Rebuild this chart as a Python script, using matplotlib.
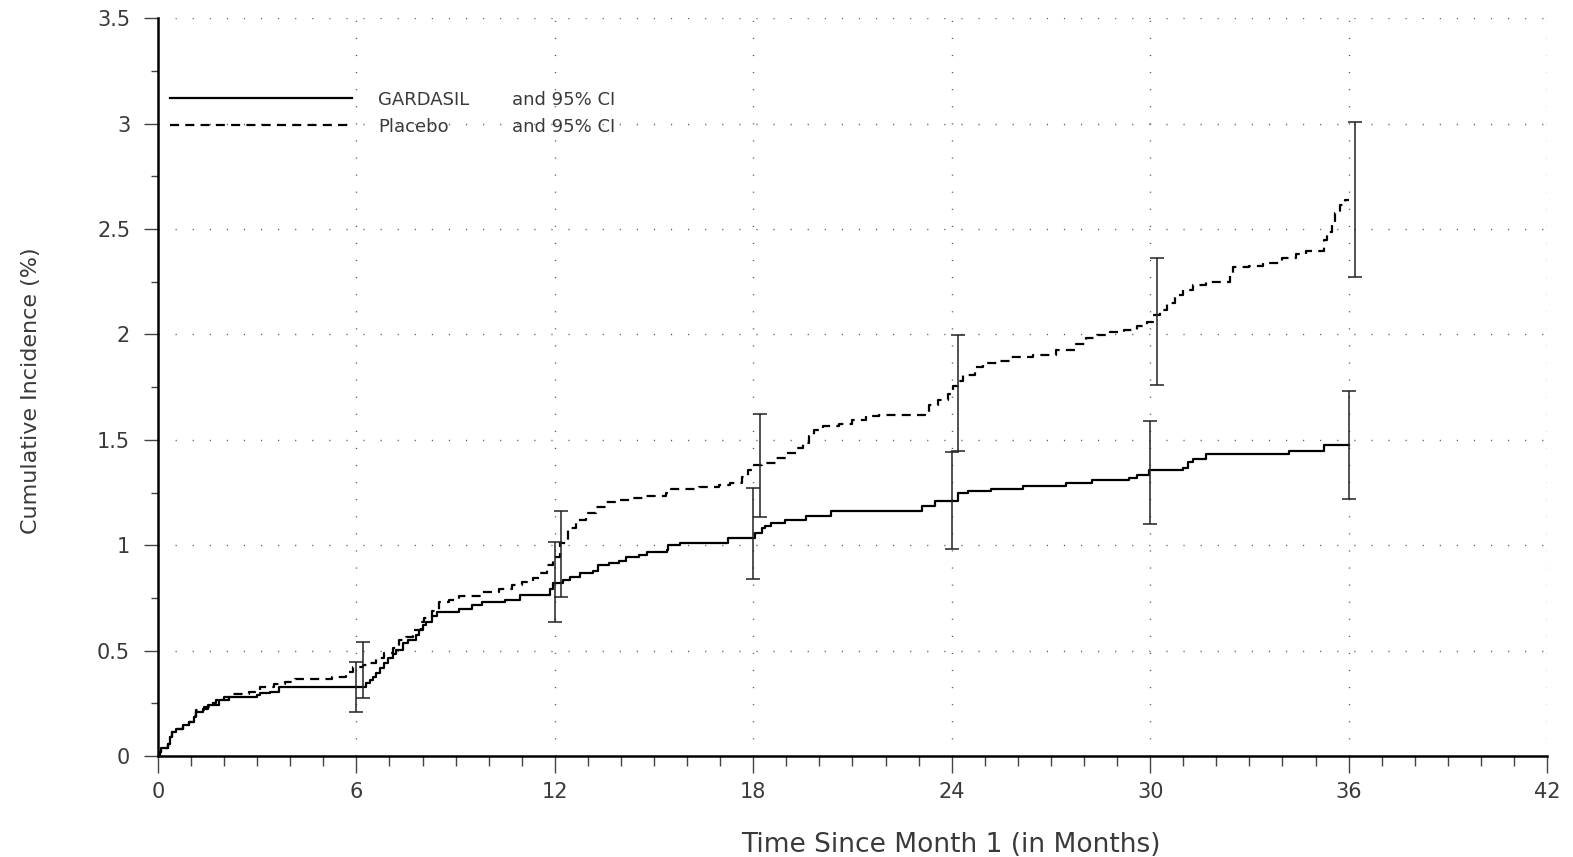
import matplotlib
matplotlib.use("Agg")
import matplotlib.pyplot as plt
from matplotlib.ticker import MultipleLocator
from matplotlib.lines import Line2D

plt.rcParams['lines.scale_dashes'] = False
plt.rcParams['font.family'] = ['DejaVu Sans']

# ---------------- data ----------------
gard_t = [0, 0.05, 0.1, 0.3, 0.38, 0.42, 0.55, 0.75, 0.95, 1.1, 1.15, 1.35, 1.5, 1.85, 2.15,
          3.0, 3.1, 3.4, 3.65, 6.3, 6.4, 6.5, 6.6, 6.7, 6.85, 6.95, 7.1, 7.2, 7.4, 7.55, 7.8,
          7.9, 8.0, 8.1, 8.3, 8.45, 9.1, 9.5, 9.8, 10.5, 10.95, 11.85, 11.95, 12.25, 12.45,
          12.75, 13.15, 13.3, 13.65, 13.95, 14.15, 14.55, 14.8, 15.38, 15.43, 15.78, 17.25,
          18.05, 18.25, 18.35, 18.55, 18.95, 19.6, 20.35, 23.1, 23.5, 24.2, 24.5, 25.2, 26.15,
          27.45, 28.25, 29.35, 29.6, 29.95, 31.0, 31.15, 31.3, 31.7, 34.2, 35.25, 36.0]
gard_v = [0, 0.02, 0.04, 0.055, 0.09, 0.115, 0.13, 0.148, 0.163, 0.185, 0.21, 0.225, 0.242,
          0.266, 0.278, 0.29, 0.297, 0.305, 0.329, 0.345, 0.36, 0.376, 0.395, 0.416, 0.44,
          0.463, 0.483, 0.503, 0.534, 0.55, 0.575, 0.598, 0.62, 0.637, 0.664, 0.685, 0.696,
          0.716, 0.732, 0.74, 0.764, 0.79, 0.819, 0.835, 0.851, 0.87, 0.878, 0.906, 0.917,
          0.926, 0.942, 0.954, 0.969, 0.978, 1.001, 1.009, 1.033, 1.056, 1.08, 1.091, 1.104,
          1.12, 1.139, 1.164, 1.186, 1.211, 1.246, 1.259, 1.269, 1.281, 1.297, 1.309, 1.32,
          1.333, 1.357, 1.364, 1.396, 1.407, 1.433, 1.448, 1.475, 1.475]

plac_t = [0, 0.05, 0.1, 0.3, 0.38, 0.42, 0.55, 0.75, 0.95, 1.1, 1.15, 1.4, 1.6, 1.75, 2.0,
          2.25, 2.75, 3.1, 3.5, 3.85, 4.15, 5.25, 5.7, 5.9, 6.2, 6.4, 6.6, 6.85, 7.1, 7.3,
          7.5, 7.7, 7.95, 8.05, 8.3, 8.5, 8.8, 9.1, 9.8, 10.3, 10.7, 11.0, 11.35, 11.55,
          11.75, 11.95, 12.15, 12.4, 12.65, 12.95, 13.25, 13.55, 13.85, 14.35, 14.75, 15.35,
          15.5, 16.35, 16.95, 17.3, 17.65, 17.85, 17.95, 18.25, 18.7, 19.0, 19.3, 19.5, 19.7,
          19.85, 20.1, 20.6, 21.0, 21.4, 21.8, 23.2, 23.3, 23.6, 23.9, 24.05, 24.2, 24.35,
          24.7, 24.95, 25.45, 25.75, 26.45, 27.15, 27.75, 28.05, 28.4, 28.8, 29.2, 29.6,
          29.9, 30.1, 30.3, 30.5, 30.75, 31.0, 31.3, 31.7, 32.4, 32.5, 33.0, 33.4, 34.0,
          34.4, 34.7, 35.25, 35.35, 35.5, 35.6, 35.75, 35.9, 36.0]
plac_v = [0, 0.02, 0.04, 0.055, 0.09, 0.115, 0.13, 0.148, 0.163, 0.19, 0.218, 0.23, 0.25,
          0.266, 0.28, 0.294, 0.305, 0.329, 0.34, 0.352, 0.364, 0.376, 0.4, 0.424, 0.432,
          0.443, 0.463, 0.487, 0.511, 0.55, 0.566, 0.598, 0.637, 0.653, 0.69, 0.732, 0.74,
          0.759, 0.779, 0.79, 0.811, 0.827, 0.843, 0.866, 0.906, 0.946, 1.009, 1.08, 1.12,
          1.151, 1.183, 1.207, 1.215, 1.223, 1.233, 1.246, 1.269, 1.277, 1.286, 1.294, 1.325,
          1.357, 1.38, 1.391, 1.412, 1.436, 1.459, 1.486, 1.52, 1.546, 1.565, 1.575, 1.594,
          1.613, 1.617, 1.625, 1.665, 1.689, 1.717, 1.755, 1.78, 1.807, 1.847, 1.865, 1.875,
          1.891, 1.902, 1.926, 1.957, 1.984, 1.997, 2.013, 2.021, 2.04, 2.06, 2.092, 2.116,
          2.147, 2.187, 2.211, 2.234, 2.25, 2.282, 2.321, 2.326, 2.337, 2.365, 2.384, 2.396,
          2.447, 2.487, 2.535, 2.574, 2.614, 2.638, 2.638]

gard_ci_t = [6.0, 12.0, 18.0, 24.0, 30.0, 36.0]
gard_ci_lo = [0.207, 0.634, 0.841, 0.98, 1.10, 1.218]
gard_ci_hi = [0.447, 1.014, 1.273, 1.44, 1.589, 1.733]
gard_ci_mid = [0.329, 0.79, 1.056, 1.211, 1.357, 1.475]

plac_ci_t = [6.2, 12.2, 18.2, 24.2, 30.2, 36.2]
plac_ci_lo = [0.274, 0.754, 1.132, 1.447, 1.761, 2.274]
plac_ci_hi = [0.539, 1.162, 1.622, 1.996, 2.364, 3.006]
plac_ci_mid = [0.432, 1.009, 1.391, 1.78, 2.116, 2.638]

x_ticks = [0, 6, 12, 18, 24, 30, 36, 42]
y_ticks = [0, 0.5, 1, 1.5, 2, 2.5, 3, 3.5]
y_ticklabels = ['0', '0.5', '1', '1.5', '2', '2.5', '3', '3.5']

# ---------------- figure ----------------
fig = plt.figure(figsize=(15.73, 8.57), dpi=100)
ax = fig.add_axes([0.1004, 0.1179, 0.8831, 0.8607])

txt = '#3a3a3a'

ax.step(gard_t, gard_v, where='post', color='black', lw=1.6, label='GARDASIL')
ax.step(plac_t, plac_v, where='post', color='black', lw=1.6,
        linestyle=(0, (6.5, 4.5)), label='Placebo')

# error bars (95% CI)
ax.errorbar(gard_ci_t,
            gard_ci_mid,
            yerr=[[m - l for m, l in zip(gard_ci_mid, gard_ci_lo)],
                  [h - m for m, h in zip(gard_ci_mid, gard_ci_hi)]],
            fmt='none', ecolor='#222222', elinewidth=1.1, capsize=4.8, capthick=1.1)
ax.errorbar(plac_ci_t,
            plac_ci_mid,
            yerr=[[m - l for m, l in zip(plac_ci_mid, plac_ci_lo)],
                  [h - m for m, h in zip(plac_ci_mid, plac_ci_hi)]],
            fmt='none', ecolor='#222222', elinewidth=1.1, capsize=4.8, capthick=1.1)

ax.set_xlim(0, 42)
ax.set_ylim(0, 3.5)
ax.set_xticks(x_ticks)
ax.set_xticklabels([str(v) for v in x_ticks])
ax.set_yticks(y_ticks)
ax.set_yticklabels(y_ticklabels)
ax.xaxis.set_minor_locator(MultipleLocator(1))
ax.yaxis.set_minor_locator(MultipleLocator(0.25))

for s in ['top', 'right']:
    ax.spines[s].set_visible(False)
for s in ['left', 'bottom']:
    ax.spines[s].set_linewidth(1.8)
    ax.spines[s].set_color('black')

ax.tick_params(axis='x', which='major', direction='out', length=12, width=1, color='#444444',
               labelsize=15, labelcolor=txt, pad=7)
ax.tick_params(axis='x', which='minor', direction='out', length=7, width=1, color='#444444')
ax.tick_params(axis='y', which='major', direction='out', length=10, width=1, color='#444444',
               labelsize=15, labelcolor=txt, pad=10)
ax.tick_params(axis='y', which='minor', direction='out', length=5, width=1, color='#444444')

ax.grid(True, which='major', color='#555555', linestyle=(0, (0.8, 11.5)), linewidth=1.0)
ax.set_axisbelow(True)

ax.set_xlabel('Time Since Month 1 (in Months)', fontsize=19, color=txt)
ax.xaxis.set_label_coords(0.571, -0.103)
ax.set_ylabel('Cumulative Incidence (%)', fontsize=16, color=txt)
ax.yaxis.set_label_coords(-0.084, 0.495)

leg = ax.legend(loc='upper left', bbox_to_anchor=(0.0086, 0.902), frameon=False,
                fontsize=13, handlelength=10.1, handletextpad=1.45, labelspacing=0.5,
                borderaxespad=0.0, borderpad=0.0, labelcolor=txt)
ax.add_artist(leg)

blank = [Line2D([], [], lw=0), Line2D([], [], lw=0)]
leg2 = ax.legend(blank, ['and 95% CI', 'and 95% CI'], loc='upper left',
                 bbox_to_anchor=(0.2549, 0.902), frameon=False, fontsize=13,
                 handlelength=0, handletextpad=0, labelspacing=0.5,
                 borderaxespad=0.0, borderpad=0.0, labelcolor=txt)

fig.savefig('out.png', dpi=100)
